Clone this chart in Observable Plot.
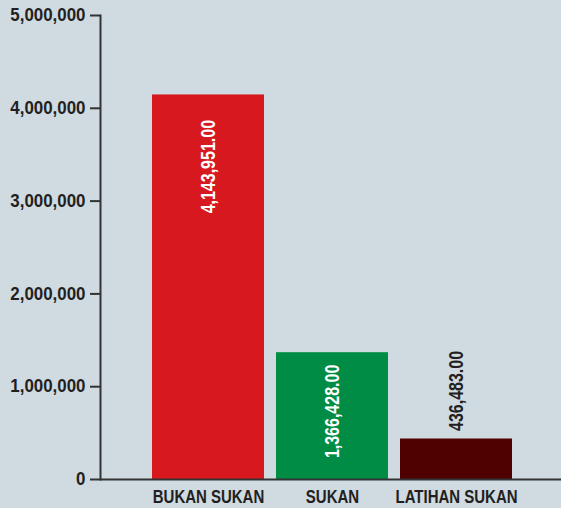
<!DOCTYPE html>
<html>
<head>
<meta charset="utf-8">
<script src="https://cdn.jsdelivr.net/npm/d3@7"></script>
<script src="https://cdn.jsdelivr.net/npm/@observablehq/plot@0.6"></script>
<style>
  html, body { margin: 0; padding: 0; background: #cfdae1; }
  #chart svg { display: block; }
</style>
</head>
<body>
<div id="chart"></div>
<script>
const categories = ["BUKAN SUKAN", "SUKAN", "LATIHAN SUKAN"];
const values = [4143951.00, 1366428.00, 436483.00];
const colors = ["#d7191f", "#008c44", "#4f0000"];
const yTicks = [0, 1000000, 2000000, 3000000, 4000000, 5000000];

const data = categories.map((c, i) => ({category: c, value: values[i], color: colors[i]}));
const fmtTick = d3.format(",");
const fmtVal = d3.format(",.2f");
const font = "'Liberation Sans', Arial, sans-serif";
const ink = "#231f20";

const chart = Plot.plot({
  width: 561,
  height: 508,
  marginLeft: 100,
  marginRight: 0,
  marginTop: 15,
  marginBottom: 29,
  style: {background: "#cfdae1", fontFamily: font, color: ink, overflow: "visible"},
  x: {type: "band", domain: categories, paddingInner: 0.097, paddingOuter: 0.407, align: 0.515},
  y: {domain: [0, 5000000]},
  marks: [
    Plot.barY(data, {x: "category", y: "value", fill: "color"}),
    Plot.frame({anchor: "left", stroke: "#333", strokeWidth: 2}),
    Plot.ruleY([0], {stroke: "#333", strokeWidth: 2}),
    Plot.axisY({ticks: yTicks, tickFormat: fmtTick, tickSize: 10, tickPadding: 5,
      stroke: "#333", strokeWidth: 2, fontSize: 18, fontWeight: "bold", fill: ink, label: null}),
    Plot.axisX({tickSize: 0, tickPadding: 10, fontSize: 18.5, fontWeight: "bold", fill: ink, label: null}),
    Plot.text(data.filter((d, i) => i === 0), {x: "category", y: "value", text: d => fmtVal(d.value),
      rotate: -90, textAnchor: "end", dy: 25, fill: "white", fontSize: 20, fontWeight: "bold", lineAnchor: "middle"}),
    Plot.text(data.filter((d, i) => i === 1), {x: "category", y: "value", text: d => fmtVal(d.value),
      rotate: -90, textAnchor: "end", dy: 12, fill: "white", fontSize: 20, fontWeight: "bold", lineAnchor: "middle"}),
    Plot.text(data.filter((d, i) => i === 2), {x: "category", y: "value", text: d => fmtVal(d.value),
      rotate: -90, textAnchor: "start", dy: -8, fill: ink, fontSize: 20, fontWeight: "bold", lineAnchor: "middle"})
  ]
});

// condense text along its own direction to imitate a condensed typeface
function condense(selector, s) {
  chart.querySelectorAll(selector).forEach(el => {
    const t = el.getAttribute("transform") || "";
    el.setAttribute("transform", `${t} scale(${s},1)`.trim());
  });
}
condense('g[aria-label="y-axis tick label"] text', 0.94);
condense('g[aria-label="x-axis tick label"] text', 0.81);
condense('g[aria-label="text"] text', 0.8);

document.getElementById("chart").appendChild(chart);
</script>
</body>
</html>
